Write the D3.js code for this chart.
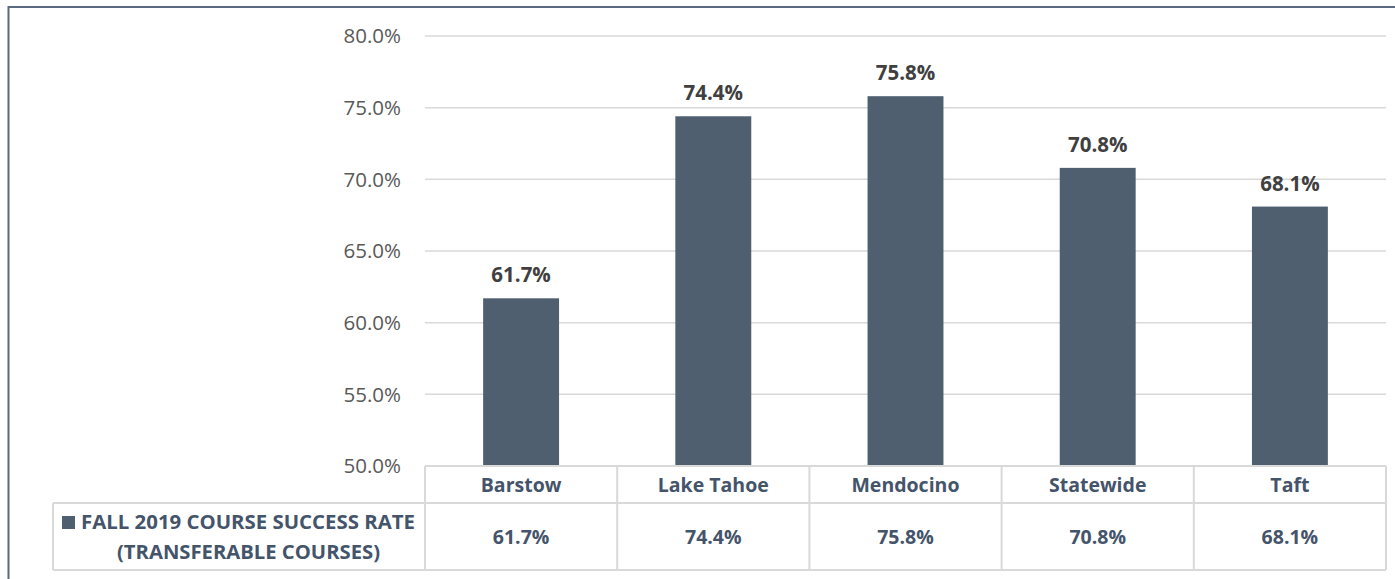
<!DOCTYPE html>
<html><head><meta charset="utf-8">
<script src="https://cdn.jsdelivr.net/npm/d3@7"></script>
<style>
html,body{margin:0;padding:0;background:#fff;}
svg{display:block;font-family:"Open Sans","Noto Sans",sans-serif;}
</style></head>
<body>
<svg id="c" width="1395" height="579"></svg>
<script>
const categories = ["Barstow","Lake Tahoe","Mendocino","Statewide","Taft"];
const values = [61.7, 74.4, 75.8, 70.8, 68.1];
const seriesName = ["FALL 2019 COURSE SUCCESS RATE","(TRANSFERABLE COURSES)"];
const yTicks = [50,55,60,65,70,75,80];

(function(){
const svg = d3.select("#c");
const W = 1395, H = 579;
const pLeft = 425, pRight = 1386, pTop = 36, pBottom = 466;
const row1 = 503, row2 = 570, legendLeft = 53;

// outer frame
svg.append("rect").attr("x",8.5).attr("y",7).attr("width",W).attr("height",H)
  .attr("fill","none").attr("stroke","#5b6b7f").attr("stroke-width",2);

const x = d3.scaleBand().domain(categories).range([pLeft,pRight]).paddingInner(0.605).paddingOuter(0.3025);
const y = d3.scaleLinear().domain([50,80]).range([pBottom,pTop]);

// gridlines
svg.append("g").selectAll("line").data(yTicks.filter(t=>t>50)).join("line")
  .attr("x1",pLeft).attr("x2",pRight).attr("y1",d=>y(d)).attr("y2",d=>y(d))
  .attr("stroke","#d9d9d9").attr("stroke-width",1.5);

const tf = "'Open Sans','Noto Sans',sans-serif";

// y axis labels
const yAxis = d3.axisLeft(y).tickValues(yTicks).tickFormat(d=>d.toFixed(1)+"%").tickSize(0).tickPadding(24);
const ga = svg.append("g").attr("transform",`translate(${pLeft},0)`).call(yAxis);
ga.select(".domain").remove();
ga.selectAll("text").attr("fill","#595959").attr("font-family",tf).style("font-size","20.5px").attr("dy","0.34em");

// bars
svg.append("g").selectAll("rect").data(values).join("rect")
  .attr("x",(d,i)=>x(categories[i])).attr("width",x.bandwidth())
  .attr("y",d=>y(d)).attr("height",d=>pBottom-y(d)).attr("fill","#4f5f70");

// data labels
svg.append("g").selectAll("text").data(values).join("text")
  .attr("x",(d,i)=>x(categories[i])+x.bandwidth()/2).attr("y",d=>y(d)-16)
  .attr("text-anchor","middle").attr("font-weight","bold").attr("font-size",20.5)
  .attr("fill","#404040").attr("font-family",tf)
  .text(d=>d.toFixed(1)+"%");

// table
const tb = svg.append("g").attr("stroke","#d9d9d9").attr("stroke-width",2).attr("fill","none");
const step = x.step();
const colEdges = categories.map((c,i)=>pLeft+i*step).concat([pRight]);
tb.append("line").attr("x1",pLeft).attr("x2",pRight).attr("y1",pBottom).attr("y2",pBottom);
tb.append("line").attr("x1",legendLeft).attr("x2",pRight).attr("y1",row1).attr("y2",row1);
tb.append("line").attr("x1",legendLeft).attr("x2",pRight).attr("y1",row2).attr("y2",row2);
tb.append("line").attr("x1",legendLeft).attr("x2",legendLeft).attr("y1",row1).attr("y2",row2);
colEdges.forEach(e=>tb.append("line").attr("x1",e).attr("x2",e).attr("y1",pBottom).attr("y2",row2));

svg.append("g").selectAll("text").data(categories).join("text")
  .attr("x",d=>x(d)+x.bandwidth()/2).attr("y",(pBottom+row1)/2+7)
  .attr("text-anchor","middle").attr("font-weight","bold").attr("font-size",19.5)
  .attr("fill","#44546a").attr("font-family",tf).text(d=>d);
svg.append("g").selectAll("text").data(values).join("text")
  .attr("x",(d,i)=>x(categories[i])+x.bandwidth()/2).attr("y",(row1+row2)/2+7)
  .attr("text-anchor","middle").attr("font-weight","bold").attr("font-size",19.5)
  .attr("fill","#44546a").attr("font-family",tf).text(d=>d.toFixed(1)+"%");

// legend
svg.append("rect").attr("x",62).attr("y",516).attr("width",13).attr("height",13).attr("fill","#4f5f70");
svg.append("text").attr("x",81).attr("y",529).attr("font-weight","bold").attr("font-size",19)
  .attr("fill","#44546a").attr("font-family",tf).attr("textLength",334).attr("lengthAdjust","spacingAndGlyphs").text(seriesName[0]);
svg.append("text").attr("x",117).attr("y",559).attr("font-weight","bold").attr("font-size",19)
  .attr("fill","#44546a").attr("font-family",tf).attr("textLength",263).attr("lengthAdjust","spacingAndGlyphs").text(seriesName[1]);
})();
</script>
</body></html>
